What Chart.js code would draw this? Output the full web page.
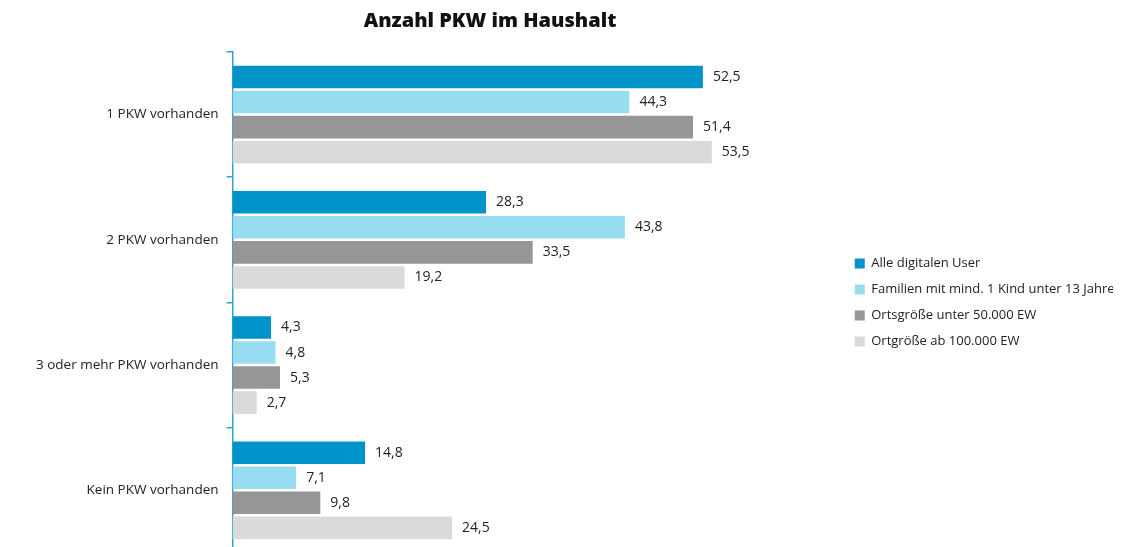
<!DOCTYPE html>
<html>
<head>
<meta charset="utf-8">
<script src="https://cdn.jsdelivr.net/npm/chart.js@4"></script>
<style>
    html, body { margin: 0; padding: 0; background: #fff; overflow: hidden; }
    #wrap { position: relative; width: 1121px; height: 547px; overflow: hidden; }
    #title {
        position: absolute; top: 6px; left: 0; width: 980px;
        text-align: center; font: 800 20px "Open Sans", sans-serif; color: #111;
    }
    canvas { display: block; }
</style>
</head>
<body>
<div id="wrap">
    <div id="title">Anzahl PKW im Haushalt</div>
    <canvas id="chartPKW" width="1121" height="569"></canvas>
</div>
<script>
// Kategorien und Serien
const categories = ['1 PKW vorhanden', '2 PKW vorhanden', '3 oder mehr PKW vorhanden', 'Kein PKW vorhanden'];
const seriesNames = [
    'Alle digitalen User',
    'Familien mit mind. 1 Kind unter 13 Jahre',
    'Ortsgröße unter 50.000 EW',
    'Ortgröße ab 100.000 EW'
];
const alleUser = [52.5, 28.3, 4.3, 14.8];
const familien = [44.3, 43.8, 4.8, 7.1];
const ortUnter50 = [51.4, 33.5, 5.3, 9.8];
const ortAb100 = [53.5, 19.2, 2.7, 24.5];
const seriesColors = ['#0093c9', '#97dcf1', '#969696', '#dadada'];

const fmt = v => v.toFixed(1).replace('.', ',');

// Werte rechts neben die Balken schreiben
const valueLabels = {
    id: 'valueLabels',
    afterDatasetsDraw(chart) {
        const ctx = chart.ctx;
        ctx.save();
        ctx.font = '14px "Open Sans", sans-serif';
        ctx.fillStyle = '#222';
        ctx.textBaseline = 'middle';
        chart.data.datasets.forEach((ds, i) => {
            chart.getDatasetMeta(i).data.forEach((bar, j) => {
                ctx.fillText(fmt(ds.data[j]), bar.x + 10, bar.y);
            });
        });
        ctx.restore();
    }
};

function renderChart() {
    const ctx = document.getElementById('chartPKW').getContext('2d');
    new Chart(ctx, {
        type: 'bar',
        data: {
            labels: categories,
            datasets: [alleUser, familien, ortUnter50, ortAb100].map((d, i) => ({
                label: seriesNames[i],
                data: d,
                backgroundColor: seriesColors[i],
                borderWidth: 0
            }))
        },
        options: {
            indexAxis: 'y',
            responsive: false,
            animation: false,
            layout: { padding: { top: 52, left: 28, right: 8 } },
            plugins: {
                legend: {
                    position: 'right',
                    fullSize: false,
                    labels: {
                        boxWidth: 10, boxHeight: 10, padding: 13,
                        color: '#222',
                        font: { family: '"Open Sans", sans-serif', size: 13 }
                    }
                },
                tooltip: { enabled: false }
            },
            scales: {
                x: { display: false, min: 0, max: 68 },
                y: {
                    border: { color: '#2ea3d6', width: 1.5 },
                    grid: { drawOnChartArea: false, tickLength: 6, color: '#2ea3d6', lineWidth: 1.5 },
                    ticks: {
                        color: '#222', padding: 8,
                        font: { family: '"Open Sans", sans-serif', size: 13.5 }
                    }
                }
            }
        },
        plugins: [valueLabels]
    });
}

// erst zeichnen, wenn die Schrift bereit ist (Textbreiten)
document.addEventListener('DOMContentLoaded', () => {
    Promise.all([
        document.fonts.load('13px "Open Sans"'),
        document.fonts.load('14px "Open Sans"')
    ]).then(renderChart, renderChart);
});
</script>
</body>
</html>
